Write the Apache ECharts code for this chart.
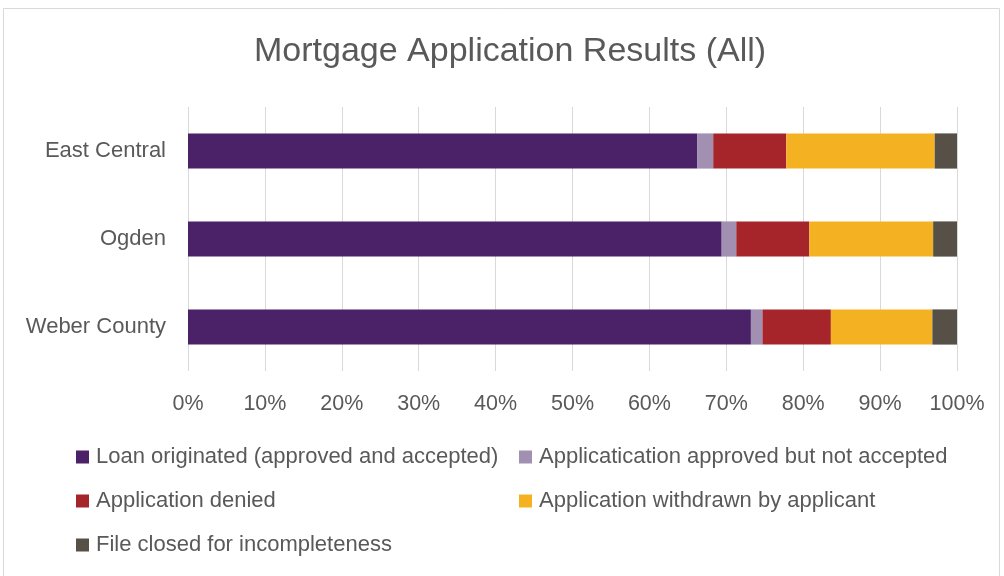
<!DOCTYPE html>
<html>
<head>
<meta charset="utf-8">
<script src="https://cdn.jsdelivr.net/npm/echarts@6/dist/echarts.min.js"></script>
<style>html,body{margin:0;padding:0;background:#fff}#c{width:1004px;height:576px}</style>
</head>
<body>
<div id="c"></div>
<script>
const categories = ['East Central', 'Ogden', 'Weber County'];
const seriesNames = [
  'Loan originated (approved and accepted)',
  'Applicatication approved but not accepted',
  'Application denied',
  'Application withdrawn by applicant',
  'File closed for incompleteness'
];
const loanOriginated = [66.2, 69.4, 73.2];
const approvedNotAccepted = [2.1, 1.9, 1.5];
const denied = [9.5, 9.5, 8.9];
const withdrawn = [19.3, 16.1, 13.2];
const fileClosed = [2.9, 3.1, 3.2];
const xTicks = [0, 10, 20, 30, 40, 50, 60, 70, 80, 90, 100];

const colors = ['#4b2168', '#a290b3', '#a5252a', '#f4b223', '#565047'];
const values = [loanOriginated, approvedNotAccepted, denied, withdrawn, fileClosed];
const FONT = '"Liberation Sans", sans-serif';
const TXT = '#595959';

const chart = echarts.init(document.getElementById('c'), null, {renderer: 'canvas'});
chart.setOption({
  animation: false,
  textStyle: {fontFamily: FONT},
  title: {
    text: 'Mortgage Application Results (All)',
    left: 249, top: 30,
    textStyle: {fontFamily: FONT, fontSize: 34, fontWeight: 'normal', color: TXT}
  },
  graphic: [{
    type: 'rect', shape: {x: 3.5, y: 8.5, width: 996, height: 580},
    style: {fill: 'none', stroke: '#d9d9d9', lineWidth: 1}, silent: true
  }],
  legend: [
    {
      orient: 'vertical', left: 71, top: 441, itemWidth: 13, itemHeight: 13, itemGap: 22,
      icon: 'rect',
      data: [seriesNames[0], seriesNames[2], seriesNames[4]],
      textStyle: {fontFamily: FONT, fontSize: 22, color: TXT, padding: [0, 0, 0, 2]}
    },
    {
      orient: 'vertical', left: 514, top: 441, itemWidth: 13, itemHeight: 13, itemGap: 22,
      icon: 'rect',
      data: [seriesNames[1], seriesNames[3]],
      textStyle: {fontFamily: FONT, fontSize: 22, color: TXT, padding: [0, 0, 0, 2]}
    }
  ],
  grid: {left: 188, right: 47, top: 107, height: 264, containLabel: false},
  xAxis: {
    type: 'value', min: 0, max: 100, interval: 10,
    axisLine: {show: false}, axisTick: {show: false},
    splitLine: {lineStyle: {color: '#d9d9d9', width: 1}},
    axisLabel: {formatter: v => xTicks.includes(v) ? v + '%' : '', fontFamily: FONT, fontSize: 21.5, color: TXT, margin: 22}
  },
  yAxis: {
    type: 'category', data: categories, inverse: true,
    axisLine: {show: false}, axisTick: {show: false},
    axisLabel: {fontFamily: FONT, fontSize: 22, color: TXT, margin: 22}
  },
  series: seriesNames.map((n, i) => ({
    name: n, type: 'bar', stack: 'total', barWidth: '40%',
    itemStyle: {color: colors[i]},
    data: values[i]
  }))
});
</script>
</body>
</html>
